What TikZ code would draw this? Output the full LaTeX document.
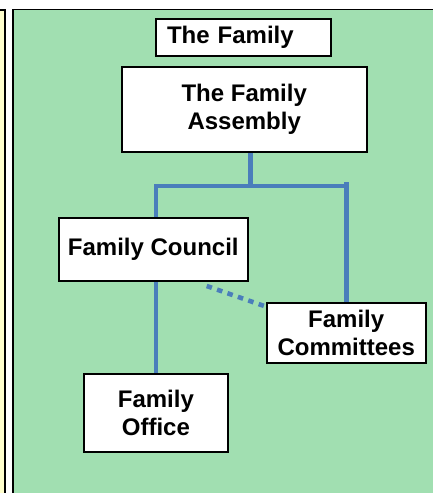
\documentclass[tikz,border=0pt]{standalone}
\usepackage{fontspec}
\setmainfont{Liberation Sans}
\usetikzlibrary{calc}
\definecolor{panelgreen}{HTML}{A1DFB1}
\definecolor{paneyellow}{HTML}{FFFFCC}
\definecolor{linkblue}{HTML}{4A7EBB}
\pgfdeclarelayer{panel}
\pgfdeclarelayer{links}
\pgfsetlayers{panel,links,main}
\tikzset{
  box/.style={draw=black, fill=white, line width=2pt, inner sep=0pt,
    font=\fontsize{24}{28}\selectfont\bfseries, align=center},
  link/.style={draw=linkblue, line width=4.8pt, line join=miter},
  dotlink/.style={draw=linkblue, line width=4.6pt, dash pattern=on 5.5pt off 5.5pt}
}
\begin{document}
\begin{tikzpicture}[x=1pt, y=-1pt]
\useasboundingbox (0,0) rectangle (432,493);

% background panels
\begin{pgfonlayer}{panel}
  \fill[paneyellow] (-10,10) rectangle (5,510);
  \draw[black, line width=1.3pt] (-10,10) -- (5,10) -- (5,510);
  \fill[panelgreen] (13,9.5) rectangle (445,510);
  \draw[black, line width=1.8pt] (13,510) -- (13,9.5) -- (445,9.5);
\end{pgfonlayer}

% organisation boxes
\node[box, align=left, text width=153pt, inner xsep=11pt,
      minimum width=175pt, minimum height=37pt] (family) at (243.5,37.5) {The Family};
\node[box, minimum width=245pt, minimum height=85.3pt] (assembly) at (244.2,109.7) {The Family\\Assembly};
\node[box, minimum width=189.3pt, minimum height=63pt] (council) at (153.3,249.2) {Family Council};
\node[box, minimum width=159pt, minimum height=60.3pt] (committees) at (346.2,332.8) {Family\\Committees};
\node[box, minimum width=144.3pt, minimum height=78.6pt] (office) at (155.9,413) {Family\\Office};

% connector coordinates
\coordinate (hub) at (250.7,186);
\coordinate (lcol) at (156,186);
\coordinate (rcol) at (348.6,186);
\coordinate (rtop) at (346.2,182);
\coordinate (dotA) at (206.7,286);
\coordinate (dotB) at (265.7,306.5);

\begin{pgfonlayer}{links}
  \draw[link] (assembly.south -| hub) -- (hub);
  \draw[link] (council.north -| lcol) -- (lcol) -- (rcol);
  \draw[link] (rtop) -- (committees.north);
  \draw[link] (council.south -| lcol) -- (office.north -| lcol);
  \draw[dotlink] (dotA) -- (dotB);
\end{pgfonlayer}
\end{tikzpicture}
\end{document}
